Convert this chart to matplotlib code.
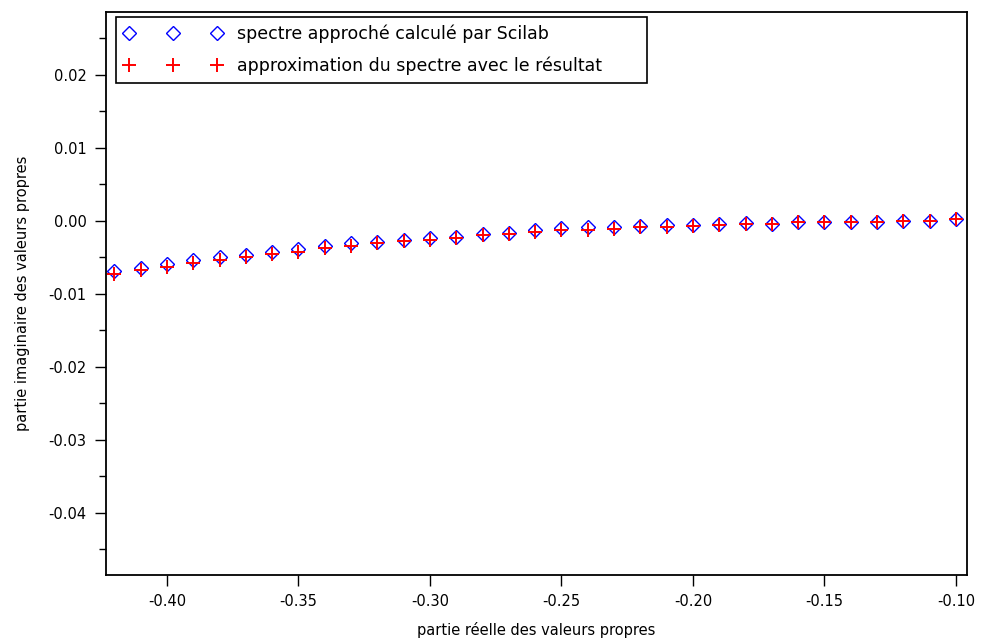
import matplotlib
matplotlib.use('Agg')
import matplotlib.pyplot as plt
from matplotlib.ticker import MultipleLocator

# partie réelle des valeurs propres
re_vp = [-0.42, -0.41, -0.40, -0.39, -0.38, -0.37, -0.36, -0.35, -0.34, -0.33, -0.32,
         -0.31, -0.30, -0.29, -0.28, -0.27, -0.26, -0.25, -0.24, -0.23, -0.22, -0.21,
         -0.20, -0.19, -0.18, -0.17, -0.16, -0.15, -0.14, -0.13, -0.12, -0.11, -0.10]

# spectre approché calculé par Scilab (partie imaginaire)
im_scilab = [-0.0069, -0.0064, -0.0059, -0.0054, -0.0049, -0.0047, -0.0042, -0.0039,
             -0.0034, -0.0031, -0.0029, -0.0026, -0.0024, -0.0022, -0.0018, -0.0016,
             -0.0012, -0.0010, -0.0009, -0.0008, -0.0007, -0.0006, -0.0006, -0.0005,
             -0.0003, -0.0004, -0.0001, -0.0001, -0.0001, -0.0001, 0.0000, 0.0000, 0.0003]

# approximation avec le résultat
im_approx = [-0.0073, -0.0068, -0.0063, -0.0058, -0.0053, -0.0050, -0.0045, -0.0042,
             -0.0037, -0.0034, -0.0031, -0.0028, -0.0026, -0.0023, -0.0020, -0.0018,
             -0.0015, -0.0013, -0.0012, -0.0011, -0.0009, -0.0008, -0.0007, -0.0006,
             -0.0004, -0.0004, -0.0002, -0.0002, -0.0001, -0.0001, 0.0000, 0.0000, 0.0003]

fig = plt.figure(figsize=(9.81, 6.39), dpi=100)
ax = fig.add_axes([0.108, 0.1002, 0.8777, 0.881])

ax.plot(re_vp, im_scilab, linestyle='none', marker='D', markersize=7,
        markerfacecolor='none', markeredgecolor='blue', markeredgewidth=1,
        label='spectre approché calculé par Scilab')
ax.plot(re_vp, im_approx, linestyle='none', marker='+', markersize=10,
        color='red', markeredgewidth=1.4,
        label='approximation du spectre avec le résultat')

ax.set_xlim(-0.4232, -0.0958)
ax.set_ylim(-0.0485, 0.0286)
ax.xaxis.set_major_locator(MultipleLocator(0.05))
ax.yaxis.set_major_locator(MultipleLocator(0.01))
ax.yaxis.set_minor_locator(MultipleLocator(0.005))
ax.xaxis.set_major_formatter(plt.FuncFormatter(lambda v, p: '%.2f' % v))
ax.yaxis.set_major_formatter(plt.FuncFormatter(lambda v, p: '%.2f' % v))

ax.tick_params(which='major', direction='out', length=8, width=1, labelsize=10.5, pad=6)
ax.tick_params(which='minor', direction='out', length=5, width=1)
ax.spines[:].set_linewidth(1.3)

ax.set_xlabel('partie réelle des valeurs propres', fontsize=10.5, labelpad=9)
ax.set_ylabel('partie imaginaire des valeurs propres', fontsize=10.5, labelpad=13)

# cadre de légende plus large que le texte, comme dans Scilab
leg = ax.legend(loc='upper left', bbox_to_anchor=(0.0116, 0.0, 0.6167, 0.991),
                mode='expand', borderaxespad=0, numpoints=3, handlelength=5.7,
                fontsize=12.5, fancybox=False, edgecolor='black', framealpha=1,
                borderpad=0.45, labelspacing=0.75, handletextpad=0.8)
leg.get_frame().set_linewidth(1.2)

fig.savefig('out.png', dpi=100)
